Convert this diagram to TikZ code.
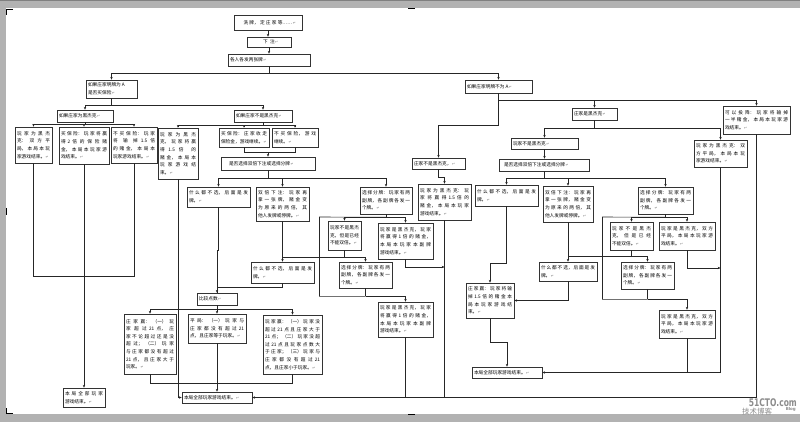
\documentclass[tikz,border=0pt]{standalone}
\usepackage{graphicx}
\usepackage{fontspec}
\setmainfont{Noto Sans CJK SC}
\newfontfamily\symf{DejaVu Sans}
\usetikzlibrary{arrows.meta,shadows}
\XeTeXlinebreaklocale "zh"
\XeTeXlinebreakskip=0pt plus 1.5pt
\newcommand\pmk{\rlap{\hspace{0.4pt}{\symf\fontsize{3.6}{3.6}\selectfont\color{black!55}↵}}}
\newcommand\LB{\linebreak}
\newcommand\bx[7][]{%
  \pgfmathsetmacro\bxW{#5-#3}%
  \pgfmathsetmacro\bxH{#6-#4}%
  \pgfmathsetmacro\bxT{#5-#3-4}%
  \pgfmathsetmacro\bxX{(#3+#5)/2}%
  \pgfmathsetmacro\bxY{(#4+#6)/2}%
  \node[box, minimum width=\bxW pt, minimum height=\bxH pt, text width=\bxT pt, #1] (#2) at (\bxX,\bxY) {#7\pmk};}
\begin{document}
\begin{tikzpicture}[x=1pt,y=-1pt,
  box/.style={draw=black!80, line width=0.6pt, fill=white, inner xsep=2pt, inner ysep=0.3pt,
    align=justify, font=\fontsize{4.7}{7.6}\selectfont,
    drop shadow={shadow xshift=0.8pt, shadow yshift=-0.8pt, fill=black!40, opacity=1}},
  ln/.style={draw=black!85, line width=0.6pt},
  ar/.style={ln, -{Stealth[length=2.8pt,width=2.4pt]}}]
\useasboundingbox (0,0) rectangle (800,422);
\fill[white] (0,0) rectangle (800,422);
% page border bands
\fill[black!30] (0,0) rectangle (800,8);
\fill[black!30] (0,0) rectangle (6,422);
\fill[black!30] (0,414) rectangle (800,422);
\fill[black!50] (0,0) rectangle (800,1.5);
% page marks
\draw[line width=1.2pt] (13,9.5) -- (6.6,9.5) -- (6.6,15);
\draw[line width=1.2pt] (6.6,408) -- (6.6,413.4) -- (13,413.4);
\draw[line width=1pt] (408,9) -- (415,9);
\draw[line width=1pt] (408,414.5) -- (415,414.5);
\draw[line width=1pt] (6.6,208) -- (6.6,215);

% ---------- nodes ----------
\bx[align=center]{n1}{234}{15}{302}{30}{洗牌，定庄家等……}
\bx[align=center]{n2}{247}{37}{291}{47}{下注}
\bx{n3}{228}{54}{310}{66}{各人各发两张牌}
\bx{a0}{86}{80}{137}{98}{如果庄家明牌为 A\\是否买保险}
\bx{a1}{57}{110}{113}{122}{如果庄家为黑杰克}
\bx{A1}{15}{127}{52}{163}{玩家为黑杰\LB 克：双方平\LB 局，本局本玩\LB 家游戏结束。}
\bx{A2}{59}{127}{109}{164}{买保险：玩家将赢\LB 得 2 倍的保险赌\LB 金，本局本玩家游\LB 戏结束。}
\bx{A3}{111}{127}{157}{163}{不买保险：玩家\LB 将输掉 1.5 倍\LB 的赌金，本局本\LB 玩家游戏结束。}
\bx{b0}{234}{110}{292}{122}{如果庄家不是黑杰克}
\bx{B1}{158}{128}{198}{179}{玩家为黑杰\LB 克，玩家将赢\LB 得 1.5 倍的\LB 赌金，本局本\LB 玩家游戏结\LB 束。}
\bx{B2}{219}{128}{269}{147}{买保险：庄家收走\LB 保险金，游戏继续。}
\bx{B3}{272}{128}{318}{147}{不买保险，游戏\LB 继续。}
\bx[text width=78pt]{c0}{221}{157}{315}{170}{\parfillskip=0pt 是否选择双倍下注或选择分牌}
\bx{C1}{187}{187}{250}{207}{什么都不选，后面是发\LB 牌。}
\bx{C2}{256}{187}{309}{221}{双倍下注：玩家再\LB 拿一张牌，赌金变\LB 为原来的两倍，其\LB 他人发牌或停牌。}
\bx{C3}{360}{187}{412}{214}{选择分牌：玩家有两\LB 副牌，各副牌各发一\LB 个牌。}
\bx{D1}{328}{221}{361}{250}{玩家不是黑杰\LB 克，但是已经\LB 不能双倍。}
\bx{D2}{378}{223}{433}{259}{玩家是黑杰克，玩家\LB 将赢得 1 倍的赌金，\LB 本局本玩家本副牌\LB 游戏结束。}
\bx{C4}{251}{262}{314}{283}{什么都不选，后面是发\LB 牌。}
\bx{D3}{339}{262}{392}{288}{选择分牌：玩家有两\LB 副牌，各副牌各发一\LB 个牌。}
\bx{D4}{378}{302}{433}{337}{玩家是黑杰克，玩家\LB 将赢得 1 倍的赌金，\LB 本局本玩家本副牌\LB 游戏结束。}
\bx{cmp}{197}{293}{237}{305}{比较点数}
\bx{F1}{124}{314}{176}{374}{庄家赢：（一）玩\LB 家超过 21 点，庄\LB 家不论超过还是没\LB 超过；（二）玩家\LB 与庄家都没有超过\LB 21 点，且庄家大于\LB 玩家。}
\bx{F2}{188}{314}{246}{343}{平局：（一）玩家与\LB 庄家都没有超过 21\LB 点，且庄家等于玩家。}
\bx{F3}{263}{315}{322}{374}{玩家赢：（一）玩家没\LB 超过 21 点且庄家大于\LB 21 点；（二）玩家没超\LB 过 21 点且玩家点数大\LB 于庄家；（三）玩家与\LB 庄家都没有超过 21\LB 点，且庄家小于玩家。}
\bx{end1}{63}{388}{105}{407}{本局全部玩家\LB 游戏结束。}
\bx{end2}{182}{392}{252}{403}{本局全部玩家游戏结束。}
\bx{r0}{465}{80}{532}{93}{如果庄家明牌不为 A}
\bx{r1}{572}{108}{617}{120}{庄家是黑杰克}
\bx{r2}{723}{106}{790}{134}{可以投降：玩家将输掉\LB 一半赌金，本局本玩家游\LB 戏结束。}
\bx{s0}{412}{158}{465}{169}{庄家不是黑杰克，}
\bx{S1}{418}{184}{471}{220}{玩家为黑杰克：玩\LB 家将赢得 1.5 倍的\LB 赌金，本局本玩家\LB 游戏结束。}
\bx{t0}{511}{138}{578}{149}{玩家不是黑杰克}
\bx{T1}{694}{140}{747}{167}{玩家为黑杰克：双\LB 方平局，本局本玩\LB 家游戏结束。}
\bx[text width=80pt]{u0}{499}{159}{589}{171}{\parfillskip=0pt 是否选择双倍下注或选择分牌}
\bx{U1}{475}{185}{538}{206}{什么都不选，后面是发\LB 牌。}
\bx{U2}{543}{186}{593}{222}{双倍下注：玩家再\LB 拿一张牌，赌金变\LB 为原来的两倍，其\LB 他人发牌或停牌。}
\bx{U3}{638}{187}{693}{214}{选择分牌：玩家有两\LB 副牌，各副牌各发一\LB 个牌。}
\bx{V1}{610}{222}{653}{250}{玩家不是黑杰\LB 克，但是已经\LB 不能双倍。}
\bx{V2}{659}{222}{715}{250}{玩家是黑杰克，双方\LB 平局，本局本玩家游\LB 戏结束。}
\bx{U4}{539}{262}{597}{281}{什么都不选，后面是发\LB 牌。}
\bx{V3}{621}{262}{674}{289}{选择分牌：玩家有两\LB 副牌，各副牌各发一\LB 个牌。}
\bx{V4}{659}{310}{715}{338}{玩家是黑杰克，双方\LB 平局，本局本玩家游\LB 戏结束。}
\bx{E}{466}{283}{514}{318}{庄家赢：玩家将输\LB 掉 1.5 倍的赌金本\LB 局本玩家游戏结\LB 束。}
\bx{end3}{472}{367}{542}{378}{本局全部玩家游戏结束。}

% helper levels
\coordinate (yA) at (0,276);
\coordinate (yF) at (0,383);
\coordinate (yD2) at (0,267);
\coordinate (yV2) at (0,268);

% ---------- connectors ----------
\draw[ar] (n1.south) -- (n1.south |- n2.north);
\draw[ar] (n2.south) -- (n2.south |- n3.north);
\draw[ln] (n3.south) -- ++(0,7) coordinate (j0);
\draw[ar] (j0) -| (a0.north);
\draw[ar] (j0) -| (r0.north);
% left: dealer shows A
\draw[ln] (a0.south) -- ++(0,7) coordinate (ja);
\draw[ar] (ja) -| (a1.north);
\draw[ar] (ja) -| (b0.north);
\draw[ln] (a1.south) -- ++(0,2) coordinate (jb);
\draw[ar] (jb) -| (A1.north);
\draw[ar] (jb) -| (A2.north);
\draw[ar] (jb) -| (A3.north);
\draw[ln] (A1.south) -- (A1.south |- yA) -- (A3.south |- yA) -- (A3.south);
\draw[ar] (A2.south) -- (end1.north);
\draw[ln] (b0.south) -- ++(0,3.5) coordinate (jc);
\draw[ar] (jc) -| (B1.north);
\draw[ar] (jc) -| (B2.north);
\draw[ar] (jc) -| (B3.north);
\draw[ar] (B1.south) |- (end2.west);
\draw[ln] (B2.south) -- ++(0,5) coordinate (jd) -| (B3.south);
\draw[ar] (c0.north |- jd) -- (c0.north);
\draw[ln] (c0.south) -- ++(0,8) coordinate (je);
\draw[ar] (je) -| (C1.north);
\draw[ar] (je) -| (C2.north);
\draw[ar] (je) -| (C3.north);
\draw[ar] (C1.south) -- ++(0,43) -| (cmp.north);
\draw[ln] (D1.south) -- ++(0,7) coordinate (jf);
\draw[ln] (C2.south) -- (C2.south |- jf);
\draw[ar] (jf) -| (C4.north);
\draw[ar] (jf) -| (D3.north);
\draw[ln] (C4.south) -- ++(0,4) -| (cmp.north);
\draw[ln] (C3.south) -- ++(0,3) coordinate (jg);
\draw[ar] (jg) -| (D1.north);
\draw[ar] (jg) -| (D2.north);
\draw[ln] (D3.south) -- ++(0,8) coordinate (jh);
\draw[ar] (jh) -| (D4.north);
\coordinate (lpL) at (319.5,217);
\draw[ln] (jh) -| (lpL) -- (jg);
\draw[ar] (D2.south) |- (S1.south |- yD2);
\draw[ln] (cmp.south) -- ++(0,4) coordinate (ji);
\draw[ar] (ji) -| (F1.north);
\draw[ar] (ji) -| (F2.north);
\draw[ar] (ji) -| (F3.north);
\draw[ln] (F1.south) -- (F1.south |- yF) -- (F3.south |- yF) -- (F3.south);
\draw[ar] (F2.south) -- (F2.south |- end2.north);
\draw[ar] (r2.south) |- (end2.east);
\draw[ln] (S1.south) -- (S1.south |- end2.east);
\draw[ln] (D4.south) -- (D4.south |- end2.east);
% right: dealer does not show A
\draw[ln] (r0.south) -- ++(0,7) coordinate (jr);
\draw[ar] (jr) -| (r1.north);
\draw[ar] (jr) -| (r2.north);
\draw[ar] (jr) -- ++(0,25) -| (s0.north);
\draw[ar] (s0.south) -- ++(0,8) -| (S1.north);
\draw[ln] (r1.south) -- ++(0,8) coordinate (js);
\draw[ar] (js) -| (t0.north);
\draw[ar] (js) -| (T1.north);
\draw[ar] (t0.south) -- (t0.south |- u0.north);
\draw[ln] (u0.south) -- ++(0,7) coordinate (jt);
\draw[ar] (jt) -| (U1.north);
\draw[ar] (jt) -| (U2.north);
\draw[ar] (jt) -| (U3.north);
\draw[ar] (U1.south) -- ++(0,57) -| (E.north);
\draw[ln] (V1.south) -- ++(0,6) coordinate (ju);
\draw[ln] (U2.south) -- (U2.south |- ju);
\draw[ar] (ju) -| (U4.north);
\draw[ar] (ju) -| (V3.north);
\draw[ln] (U3.south) -- ++(0,3) coordinate (jv);
\draw[ar] (jv) -| (V1.north);
\draw[ar] (jv) -| (V2.north);
\draw[ln] (V3.south) -- ++(0,10) coordinate (jw);
\draw[ar] (jw) -| (V4.north);
\coordinate (lpR) at (602.5,217);
\draw[ln] (jw) -| (lpR) -- (jv);
\draw[ar] (V2.south) |- (T1.south |- yV2);
\draw[ln] (V4.south) |- (T1.south |- end3.east);
\draw[ar] (T1.south) |- (end3.east);
\draw[ar] (U4.south) |- (E.east);
\draw[ar] (E.south) -- ++(0,24) -| (end3.north);

% watermark
\node[anchor=south east, inner sep=0, text=black!45, font=\symf\bfseries\fontsize{10.5}{10.5}\selectfont] (wm1) at (797,406.5) {\scalebox{0.72}[1]{51CTO.com}};
\node[anchor=north west, inner sep=0, text=black!45, font=\fontsize{7.5}{7.5}\selectfont] (wm2) at (742,407.5) {技术博客};
\node[anchor=north east, inner sep=0, text=black!45, font=\symf\bfseries\fontsize{4}{4}\selectfont] (wm3) at (796,407.5) {Blog};
\end{tikzpicture}
\end{document}
